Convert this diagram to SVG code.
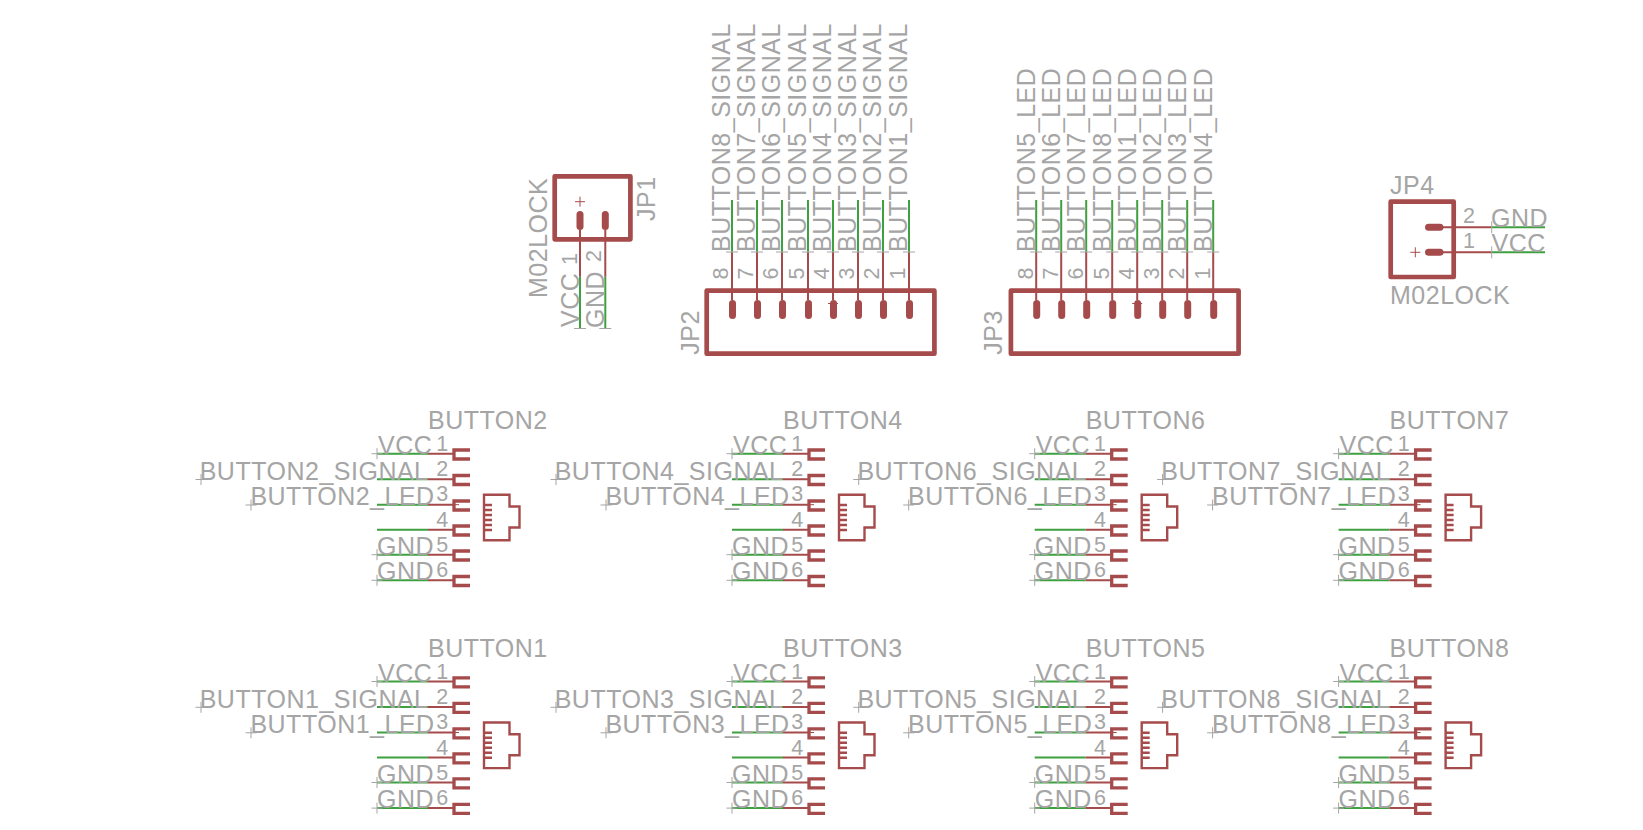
<svg xmlns="http://www.w3.org/2000/svg" width="1643" height="830" viewBox="0 0 1643 830">
<style>
text{font-family:"Liberation Sans",Arial,sans-serif;fill:#a5a5a5}
.t{font-size:25px;letter-spacing:.5px}
.n{font-size:21.5px}
.box{fill:none;stroke:#a54b4b;stroke-width:4.7;stroke-linejoin:round}
.r{fill:none;stroke:#a54b4b;stroke-width:2}
.b{fill:none;stroke:#a54b4b;stroke-width:3.3}
.i{fill:none;stroke:#a54b4b;stroke-width:2.4}
.g{fill:none;stroke:#3fa03f;stroke-width:2}
.c{fill:none;stroke:#a5a5a5;stroke-width:1}
.p{fill:#a54b4b}
.o{fill:none;stroke:#a54b4b;stroke-width:1}
</style>
<defs>
<g id="body">
<path class="r" d="M428 453.700H453M428 479.300H453M428 504.700H453M428 529.700H453M428 554.700H453M428 580.300H453"/>
<path class="b" d="M470 450H454V459H470M470 475.500H454V484.500H470M470 501H454V510H470M470 526H454V535H470M470 551H454V560H470M470 576.500H454V585.500H470"/>
<path class="o" d="M453 504.700H459"/>
<path class="i" d="M484 494.700H509.500V506.500H519.500V527.500H509.500V540.300H484ZM484 505H492M484 510H492M484 515H492M484 520H492M484 525H492M484 530H492"/>
<path class="c" d="M371.500 453.700H382.500M377 448.200V459.200M195.500 479.500H206.500M201 474V485M245.500 505H256.500M251 499.500V510.500M371.500 554.700H382.500M377 549.200V560.200M371.500 580.300H382.500M377 574.800V585.800"/>
</g>
<path id="wires" class="g" d="M377 453.700H428M377 479.300H428M377 504.700H428M377 529.700H428M377 554.700H428M377 580.300H428"/>
<rect id="pad" class="p" x="-3.500" y="0" width="7" height="19" rx="3.500"/>
</defs>
<g id="connectors">
<path class="g" d="M580 276.700V328.500M605.300 276.700V328.500"/>
<path class="g" d="M732 200V251.700M757 200V251.700M782 200V251.700M808 200V251.700M833 200V251.700M858 200V251.700M883 200V251.700M909 200V251.700"/>
<path class="g" d="M1036.200 200V251.700M1061.200 200V251.700M1086.200 200V251.700M1112.200 200V251.700M1137.200 200V251.700M1162.200 200V251.700M1187.200 200V251.700M1213.200 200V251.700"/>
<path class="g" d="M1491.700 227.300H1545M1491.700 252.300H1545"/>
<use href="#wires"/>
<use href="#wires" x="355"/>
<use href="#wires" x="657.700"/>
<use href="#wires" x="961.600"/>
<use href="#wires" y="227.800"/>
<use href="#wires" x="355" y="227.800"/>
<use href="#wires" x="657.700" y="227.800"/>
<use href="#wires" x="961.600" y="227.800"/>
</g>
<g id="JP1">
<rect class="box" x="554.700" y="176.300" width="75.700" height="63"/>
<path class="r" d="M580 230V276.700M605.300 230V276.700"/>
<use href="#pad" x="580" y="211"/><use href="#pad" x="605.300" y="211"/>
<path class="o" d="M575 201.700H585M580 196.700V206.700"/>
<path class="c" d="M574 328.500H586M599.300 328.500H611.300"/>
<text class="t" transform="translate(546.700 298) rotate(-90)">M02LOCK</text>
<text class="t" transform="translate(655 221) rotate(-90)">JP1</text>
<text class="t" transform="translate(579 327) rotate(-90)">VCC</text>
<text class="n" transform="translate(576.700 265) rotate(-90)">1</text>
<text class="t" transform="translate(604 328) rotate(-90)">GND</text>
<text class="n" transform="translate(601 262) rotate(-90)">2</text>
</g>
<g id="JP2">
<rect class="box" x="706.700" y="290.700" width="227.700" height="63"/>
<path class="r" d="M732 251.700V300M757 251.700V300M782 251.700V300M808 251.700V300M833 251.700V300M858 251.700V300M883 251.700V300M909 251.700V300"/>
<use href="#pad" x="732.500" y="300"/><use href="#pad" x="757.500" y="300"/><use href="#pad" x="782.500" y="300"/><use href="#pad" x="808.500" y="300"/><use href="#pad" x="833.500" y="300"/><use href="#pad" x="858.500" y="300"/><use href="#pad" x="883.500" y="300"/><use href="#pad" x="909.500" y="300"/>
<path class="o" d="M828 303.500H838"/>
<path class="c" d="M726 252H738M751 252H763M776 252H788M802 252H814M827 252H839M852 252H864M877 252H889M903 252H915"/>
<text class="t" transform="translate(699.300 354.700) rotate(-90)">JP2</text>
<text class="t" transform="translate(730.200 252) rotate(-90)">BUTTON8_SIGNAL</text>
<text class="t" transform="translate(755.200 252) rotate(-90)">BUTTON7_SIGNAL</text>
<text class="t" transform="translate(780.200 252) rotate(-90)">BUTTON6_SIGNAL</text>
<text class="t" transform="translate(806.200 252) rotate(-90)">BUTTON5_SIGNAL</text>
<text class="t" transform="translate(831.200 252) rotate(-90)">BUTTON4_SIGNAL</text>
<text class="t" transform="translate(856.200 252) rotate(-90)">BUTTON3_SIGNAL</text>
<text class="t" transform="translate(881.200 252) rotate(-90)">BUTTON2_SIGNAL</text>
<text class="t" transform="translate(907.200 252) rotate(-90)">BUTTON1_SIGNAL</text>
<text class="n" transform="translate(728.300 279.500) rotate(-90)">8</text>
<text class="n" transform="translate(753.300 279.500) rotate(-90)">7</text>
<text class="n" transform="translate(778.300 279.500) rotate(-90)">6</text>
<text class="n" transform="translate(804.300 279.500) rotate(-90)">5</text>
<text class="n" transform="translate(829.300 279.500) rotate(-90)">4</text>
<text class="n" transform="translate(854.300 279.500) rotate(-90)">3</text>
<text class="n" transform="translate(879.300 279.500) rotate(-90)">2</text>
<text class="n" transform="translate(905.300 279.500) rotate(-90)">1</text>
</g>
<g id="JP3">
<rect class="box" x="1010.900" y="290.700" width="227.700" height="63"/>
<path class="r" d="M1036.200 251.700V300M1061.200 251.700V300M1086.200 251.700V300M1112.200 251.700V300M1137.200 251.700V300M1162.200 251.700V300M1187.200 251.700V300M1213.200 251.700V300"/>
<use href="#pad" x="1036.700" y="300"/><use href="#pad" x="1061.700" y="300"/><use href="#pad" x="1086.700" y="300"/><use href="#pad" x="1112.700" y="300"/><use href="#pad" x="1137.700" y="300"/><use href="#pad" x="1162.700" y="300"/><use href="#pad" x="1187.700" y="300"/><use href="#pad" x="1213.700" y="300"/>
<path class="o" d="M1132.200 303.500H1142.200"/>
<path class="c" d="M1030.200 252H1042.200M1055.200 252H1067.200M1080.200 252H1092.200M1106.200 252H1118.200M1131.200 252H1143.200M1156.200 252H1168.200M1181.200 252H1193.200M1207.200 252H1219.200"/>
<text class="t" transform="translate(1001.700 354.700) rotate(-90)">JP3</text>
<text class="t" transform="translate(1034.900 252) rotate(-90)">BUTTON5_LED</text>
<text class="t" transform="translate(1059.900 252) rotate(-90)">BUTTON6_LED</text>
<text class="t" transform="translate(1084.900 252) rotate(-90)">BUTTON7_LED</text>
<text class="t" transform="translate(1110.900 252) rotate(-90)">BUTTON8_LED</text>
<text class="t" transform="translate(1135.900 252) rotate(-90)">BUTTON1_LED</text>
<text class="t" transform="translate(1160.900 252) rotate(-90)">BUTTON2_LED</text>
<text class="t" transform="translate(1185.900 252) rotate(-90)">BUTTON3_LED</text>
<text class="t" transform="translate(1211.900 252) rotate(-90)">BUTTON4_LED</text>
<text class="n" transform="translate(1032.500 279.500) rotate(-90)">8</text>
<text class="n" transform="translate(1057.500 279.500) rotate(-90)">7</text>
<text class="n" transform="translate(1082.500 279.500) rotate(-90)">6</text>
<text class="n" transform="translate(1108.500 279.500) rotate(-90)">5</text>
<text class="n" transform="translate(1133.500 279.500) rotate(-90)">4</text>
<text class="n" transform="translate(1158.500 279.500) rotate(-90)">3</text>
<text class="n" transform="translate(1183.500 279.500) rotate(-90)">2</text>
<text class="n" transform="translate(1209.500 279.500) rotate(-90)">1</text>
</g>
<g id="JP4">
<rect class="box" x="1390.700" y="201.700" width="63" height="75.300"/>
<path class="r" d="M1443 227.300H1491.700M1443 252.300H1491.700"/>
<rect class="p" x="1425" y="223.800" width="18.500" height="7" rx="3.500"/>
<rect class="p" x="1425" y="248.800" width="18.500" height="7" rx="3.500"/>
<path class="o" d="M1410.300 252.300H1420.300M1415.300 247.300V257.300"/>
<path class="c" d="M1491.700 221.300V233.300M1491.700 246.300V258.300"/>
<text class="t" x="1390" y="194">JP4</text>
<text class="t" x="1390" y="303.700">M02LOCK</text>
<text class="n" x="1463" y="222.700">2</text>
<text class="n" x="1463" y="248.300">1</text>
<text class="t" x="1491" y="226.700">GND</text>
<text class="t" x="1491.500" y="251.700">VCC</text>
</g>
<g id="BUTTON2">
<use href="#body"/>
<text class="t" x="428" y="429.300">BUTTON2</text><text class="t" x="378" y="454.200">VCC</text><text class="t" x="199.700" y="479.900">BUTTON2_SIGNAL</text><text class="t" x="250.400" y="504.900">BUTTON2_LED</text><text class="t" x="377" y="554.900">GND</text><text class="t" x="377" y="580.200">GND</text>
<text class="n" x="436.200" y="451">1</text><text class="n" x="436.200" y="476">2</text><text class="n" x="436.200" y="501">3</text><text class="n" x="436.200" y="526.800">4</text><text class="n" x="436.200" y="551.800">5</text><text class="n" x="436.200" y="577">6</text>
</g>
<g id="BUTTON4" transform="translate(355 0)">
<use href="#body"/>
<text class="t" x="428" y="429.300">BUTTON4</text><text class="t" x="378" y="454.200">VCC</text><text class="t" x="199.700" y="479.900">BUTTON4_SIGNAL</text><text class="t" x="250.400" y="504.900">BUTTON4_LED</text><text class="t" x="377" y="554.900">GND</text><text class="t" x="377" y="580.200">GND</text>
<text class="n" x="436.200" y="451">1</text><text class="n" x="436.200" y="476">2</text><text class="n" x="436.200" y="501">3</text><text class="n" x="436.200" y="526.800">4</text><text class="n" x="436.200" y="551.800">5</text><text class="n" x="436.200" y="577">6</text>
</g>
<g id="BUTTON6" transform="translate(657.700 0)">
<use href="#body"/>
<text class="t" x="428" y="429.300">BUTTON6</text><text class="t" x="378" y="454.200">VCC</text><text class="t" x="199.700" y="479.900">BUTTON6_SIGNAL</text><text class="t" x="250.400" y="504.900">BUTTON6_LED</text><text class="t" x="377" y="554.900">GND</text><text class="t" x="377" y="580.200">GND</text>
<text class="n" x="436.200" y="451">1</text><text class="n" x="436.200" y="476">2</text><text class="n" x="436.200" y="501">3</text><text class="n" x="436.200" y="526.800">4</text><text class="n" x="436.200" y="551.800">5</text><text class="n" x="436.200" y="577">6</text>
</g>
<g id="BUTTON7" transform="translate(961.600 0)">
<use href="#body"/>
<text class="t" x="428" y="429.300">BUTTON7</text><text class="t" x="378" y="454.200">VCC</text><text class="t" x="199.700" y="479.900">BUTTON7_SIGNAL</text><text class="t" x="250.400" y="504.900">BUTTON7_LED</text><text class="t" x="377" y="554.900">GND</text><text class="t" x="377" y="580.200">GND</text>
<text class="n" x="436.200" y="451">1</text><text class="n" x="436.200" y="476">2</text><text class="n" x="436.200" y="501">3</text><text class="n" x="436.200" y="526.800">4</text><text class="n" x="436.200" y="551.800">5</text><text class="n" x="436.200" y="577">6</text>
</g>
<g id="BUTTON1" transform="translate(0 227.800)">
<use href="#body"/>
<text class="t" x="428" y="429.300">BUTTON1</text><text class="t" x="378" y="454.200">VCC</text><text class="t" x="199.700" y="479.900">BUTTON1_SIGNAL</text><text class="t" x="250.400" y="504.900">BUTTON1_LED</text><text class="t" x="377" y="554.900">GND</text><text class="t" x="377" y="580.200">GND</text>
<text class="n" x="436.200" y="451">1</text><text class="n" x="436.200" y="476">2</text><text class="n" x="436.200" y="501">3</text><text class="n" x="436.200" y="526.800">4</text><text class="n" x="436.200" y="551.800">5</text><text class="n" x="436.200" y="577">6</text>
</g>
<g id="BUTTON3" transform="translate(355 227.800)">
<use href="#body"/>
<text class="t" x="428" y="429.300">BUTTON3</text><text class="t" x="378" y="454.200">VCC</text><text class="t" x="199.700" y="479.900">BUTTON3_SIGNAL</text><text class="t" x="250.400" y="504.900">BUTTON3_LED</text><text class="t" x="377" y="554.900">GND</text><text class="t" x="377" y="580.200">GND</text>
<text class="n" x="436.200" y="451">1</text><text class="n" x="436.200" y="476">2</text><text class="n" x="436.200" y="501">3</text><text class="n" x="436.200" y="526.800">4</text><text class="n" x="436.200" y="551.800">5</text><text class="n" x="436.200" y="577">6</text>
</g>
<g id="BUTTON5" transform="translate(657.700 227.800)">
<use href="#body"/>
<text class="t" x="428" y="429.300">BUTTON5</text><text class="t" x="378" y="454.200">VCC</text><text class="t" x="199.700" y="479.900">BUTTON5_SIGNAL</text><text class="t" x="250.400" y="504.900">BUTTON5_LED</text><text class="t" x="377" y="554.900">GND</text><text class="t" x="377" y="580.200">GND</text>
<text class="n" x="436.200" y="451">1</text><text class="n" x="436.200" y="476">2</text><text class="n" x="436.200" y="501">3</text><text class="n" x="436.200" y="526.800">4</text><text class="n" x="436.200" y="551.800">5</text><text class="n" x="436.200" y="577">6</text>
</g>
<g id="BUTTON8" transform="translate(961.600 227.800)">
<use href="#body"/>
<text class="t" x="428" y="429.300">BUTTON8</text><text class="t" x="378" y="454.200">VCC</text><text class="t" x="199.700" y="479.900">BUTTON8_SIGNAL</text><text class="t" x="250.400" y="504.900">BUTTON8_LED</text><text class="t" x="377" y="554.900">GND</text><text class="t" x="377" y="580.200">GND</text>
<text class="n" x="436.200" y="451">1</text><text class="n" x="436.200" y="476">2</text><text class="n" x="436.200" y="501">3</text><text class="n" x="436.200" y="526.800">4</text><text class="n" x="436.200" y="551.800">5</text><text class="n" x="436.200" y="577">6</text>
</g>
</svg>
